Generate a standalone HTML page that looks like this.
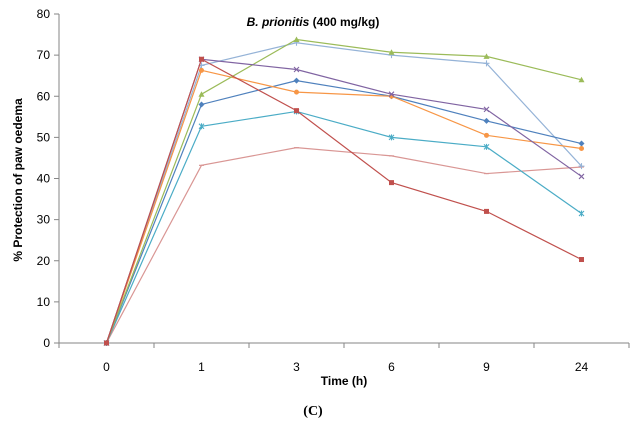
<!DOCTYPE html>
<html><head><meta charset="utf-8"><style>
body{margin:0;background:#fff;}
svg{display:block;font-family:"Liberation Sans",sans-serif;}
</style></head><body>
<svg id="c" width="632" height="427"></svg>
<script>
const categories=["0","1","3","6","9","24"];
const yTicks=[0,10,20,30,40,50,60,70,80];
const sRed=[0,69,56.5,39,32,20.3];
const sGreen=[0,60.5,73.8,70.7,69.7,64];
const sLightBlue=[0,67.5,73,70,68,43];
const sPurple=[0,69,66.5,60.5,56.8,40.5];
const sBlue=[0,58,63.8,60,54,48.5];
const sOrange=[0,66.3,61,60,50.5,47.3];
const sTeal=[0,52.7,56.3,50,47.7,31.5];
const sPink=[0,43.2,47.5,45.5,41.2,42.8];
const series=[
 {n:"series-pink",d:sPink,c:"#D99694",m:"dash"},
 {n:"series-light-blue",d:sLightBlue,c:"#95B3D7",m:"plus"},
 {n:"series-teal",d:sTeal,c:"#4BACC6",m:"star"},
 {n:"series-blue",d:sBlue,c:"#4F81BD",m:"diamond"},
 {n:"series-orange",d:sOrange,c:"#F79646",m:"circle"},
 {n:"series-green",d:sGreen,c:"#9BBB59",m:"tri"},
 {n:"series-purple",d:sPurple,c:"#8064A2",m:"x"},
 {n:"series-red",d:sRed,c:"#C0504D",m:"square"}
];
const NS="http://www.w3.org/2000/svg",svg=document.getElementById('c');
const X0=59,X1=629,Y0=343,Y1=14;
const xs=i=>X0+(X1-X0)/categories.length*(i+0.5);
const ys=v=>Y0-(v/80)*(Y0-Y1);
function el(t,a,p){const e=document.createElementNS(NS,t);for(const k in a)e.setAttribute(k,a[k]);(p||svg).appendChild(e);return e;}
let e;
e=el('line',{x1:X0,y1:Y1,x2:X0,y2:Y0,stroke:'#868686'});


e=el('line',{x1:X0,y1:Y0,x2:X1,y2:Y0,stroke:'#868686'});


yTicks.forEach(v=>{
 el('line',{x1:X0-5,x2:X0,y1:ys(v),y2:ys(v),stroke:'#868686'});
 e=el('text',{x:X0-9,y:ys(v)+4,'text-anchor':'end','font-size':'12'});e.textContent=v;
 
 
});
for(let i=0;i<=categories.length;i++){const x=X0+(X1-X0)/categories.length*i;el('line',{x1:x,x2:x,y1:Y0,y2:Y0+5,stroke:'#868686'});}
categories.forEach((c,i)=>{
 e=el('text',{x:xs(i),y:371,'text-anchor':'middle','font-size':'12'});e.textContent=c;
 
 
});
series.forEach(s=>{
 const g=el('g',{});
 
 
 el('polyline',{points:s.d.map((v,i)=>xs(i)+','+ys(v)).join(' '),fill:'none',stroke:s.c,'stroke-width':1.2},g);
 s.d.forEach((v,i)=>{
  const x=xs(i),y=ys(v);let m;
  if(s.m=='square')m=el('rect',{x:x-2.5,y:y-2.5,width:5,height:5,fill:s.c},g);
  else if(s.m=='circle')m=el('circle',{cx:x,cy:y,r:2.5,fill:s.c},g);
  else if(s.m=='diamond')m=el('path',{d:`M${x} ${y-3}L${x+3} ${y}L${x} ${y+3}L${x-3} ${y}Z`,fill:s.c},g);
  else if(s.m=='tri')m=el('path',{d:`M${x} ${y-3}L${x+3} ${y+2.5}L${x-3} ${y+2.5}Z`,fill:s.c},g);
  else if(s.m=='x')m=el('path',{d:`M${x-2.5} ${y-2.5}L${x+2.5} ${y+2.5}M${x+2.5} ${y-2.5}L${x-2.5} ${y+2.5}`,stroke:s.c,'stroke-width':1.1},g);
  else if(s.m=='plus')m=el('path',{d:`M${x-3} ${y}L${x+3} ${y}M${x} ${y-3}L${x} ${y+3}`,stroke:s.c,'stroke-width':1.1},g);
  else if(s.m=='star')m=el('path',{d:`M${x-2.5} ${y-2.5}L${x+2.5} ${y+2.5}M${x+2.5} ${y-2.5}L${x-2.5} ${y+2.5}M${x} ${y-3}L${x} ${y+3}`,stroke:s.c,'stroke-width':1.1},g);
  else m=el('path',{d:`M${x-2.5} ${y}L${x+2.5} ${y}`,stroke:s.c,'stroke-width':1.2},g);
  
  
 });
});
</script>
<svg style="position:absolute;left:0;top:0" width="632" height="427">
<text x="313" y="26" text-anchor="middle" font-size="12" font-weight="bold" font-family="Liberation Sans,sans-serif"><tspan font-style="italic">B. prionitis</tspan> (400 mg/kg)</text>
<text transform="translate(22,180) rotate(-90)" text-anchor="middle" font-size="12" font-weight="bold" font-family="Liberation Sans,sans-serif">% Protection of paw oedema</text>
<text x="344" y="385" text-anchor="middle" font-size="12" font-weight="bold" font-family="Liberation Sans,sans-serif">Time (h)</text>
<text x="313" y="415" text-anchor="middle" font-size="14" font-weight="bold" font-family="Liberation Serif,serif">(C)</text>
</svg>
</body></html>
